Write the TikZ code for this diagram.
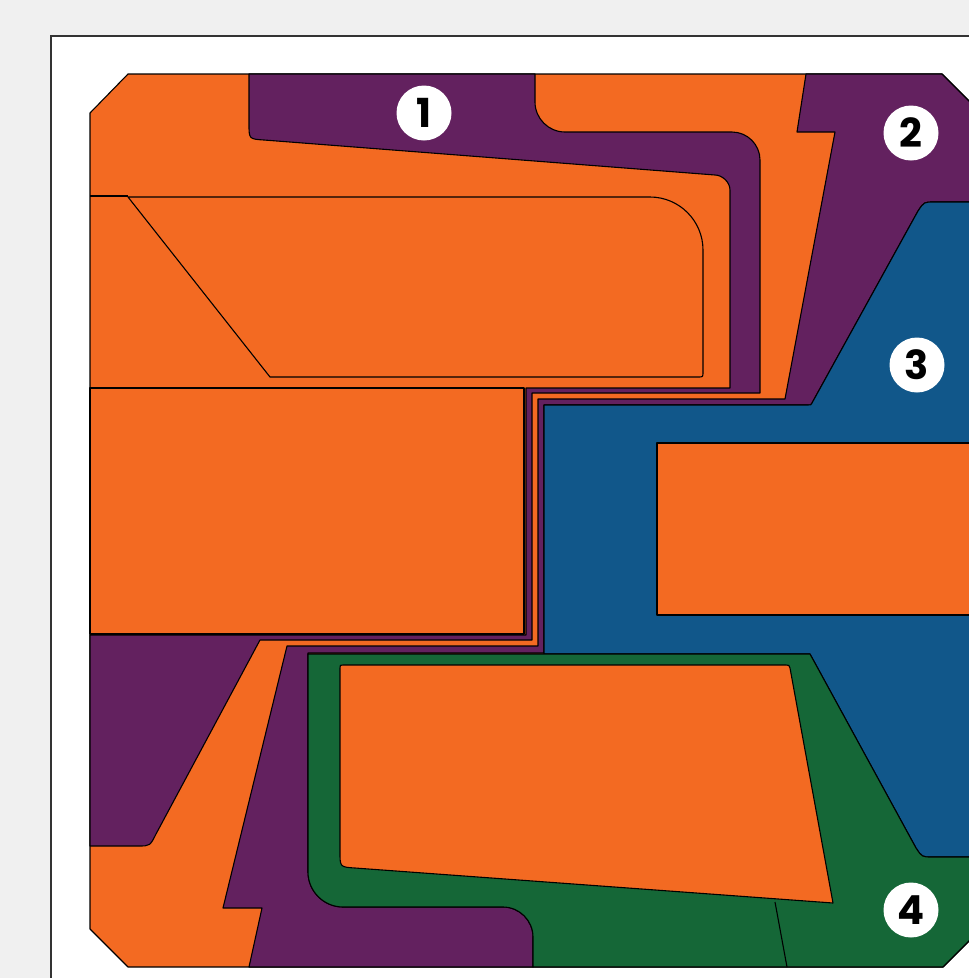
\documentclass[tikz,border=0pt]{standalone}
\usepackage{fontspec}
\newfontfamily\numfont{Poppins}
\usepackage{xcolor}
\usepackage{tikz}

\definecolor{plateorange}{HTML}{F36A22}
\definecolor{platepurple}{HTML}{63215F}
\definecolor{plateblue}{HTML}{11578A}
\definecolor{plategreen}{HTML}{156737}
\definecolor{pagegray}{HTML}{F0F0F0}

\begin{document}
\begin{tikzpicture}[
  x=1pt, y=-1pt,
  zone/.style={draw=black, line width=1.1pt, line join=round},
  orangezone/.style={zone, fill=plateorange},
  purplezone/.style={zone, fill=platepurple},
  bluezone/.style={zone, fill=plateblue},
  greenzone/.style={zone, fill=plategreen},
  cut/.style={draw=black, line width=1.1pt},
  tag/.style={circle, fill=white, minimum size=55pt, inner sep=0pt, font=\numfont\bfseries\fontsize{40}{40}\selectfont}
]
\useasboundingbox (0,0) rectangle (969,978);
\clip (0,0) rectangle (969,978);

% page and frame
\fill[pagegray] (0,0) rectangle (969,978);
\filldraw[fill=white, draw=black!80, line width=1.5pt] (51,36) rectangle (1010,1010);

% plate
\path[orangezone] (128,74) -- (942,74) -- (985,117) -- (985,925) -- (943,967)
  -- (128,967) -- (90,929) -- (90,113) -- cycle;

% zone 1
\path[purplezone] (249,74) -- (535,74) -- (535,102) .. controls (535,118.5) and (548.5,132) .. (565,132)
  -- (732,132) .. controls (747.4,132) and (760,144.6) .. (760,160) -- (760,393) -- (532,393)
  -- (532,640) -- (260,640) -- (156,834) .. controls (150,846) .. (138,846)
  -- (90,846) -- (90,635) -- (526,635) -- (526,388) -- (730,388) -- (730,190)
  .. controls (730,181.7) and (721.7,175) .. (715,175) -- (264,140)
  .. controls (249,139) .. (249,124) -- cycle;

% zone 2
\path[purplezone] (806,74) -- (942,74) -- (985,117) -- (985,202) -- (934,202)
  .. controls (924,202) .. (918,211) -- (812,403) .. controls (811,405) .. (808,405)
  -- (544,405) -- (544,653) -- (308,653) -- (308,872)
  .. controls (308,891.2) and (323.8,907) .. (343,907)
  -- (503,907) .. controls (519.5,907) and (533,920.5) .. (533,937) -- (533,967) -- (249,967) -- (262,908)
  -- (223,908) -- (287,646) -- (538,646) -- (538,399) -- (785,399) -- (835,132)
  -- (797,132) -- cycle;

% zone 3
\path[bluezone] (544,405) -- (808,405) .. controls (811,405) .. (812,403) -- (918,211)
  .. controls (924,202) .. (934,202) -- (985,202) -- (985,857) -- (932,857)
  .. controls (922,857) .. (916,848) -- (810,654) -- (544,654) -- cycle;

% zone 4
\path[greenzone] (308,654) -- (810,654) -- (916,848) .. controls (922,857) .. (932,857)
  -- (985,857) -- (985,925) -- (943,967) -- (533,967) -- (533,937)
  .. controls (533,920.5) and (519.5,907) .. (503,907) -- (343,907)
  .. controls (323.8,907) and (308,891.2) .. (308,872) -- cycle;
\draw[cut] (775,902) -- (787,967);

% inner pieces
\path[orangezone] (128,197) -- (650,197) .. controls (679.2,197) and (703,220.8) .. (703,250) -- (703,372)
  .. controls (703,377) .. (698,377) -- (270,377) -- cycle;
\draw[cut] (90,196) -- (128,196);
\path[orangezone] (90,388) rectangle (524,634);
\path[orangezone] (657,443) rectangle (985,615);
\path[orangezone] (340,668) .. controls (340,665) .. (343,665) -- (786,665)
  .. controls (789,665) .. (790,668) -- (833,903) -- (355,868)
  .. controls (340,867) .. (340,852) -- cycle;

% zone numbers
\node[tag] (tag1) at (424,113) {1};
\node[tag] (tag2) at (911,133) {2};
\node[tag] (tag3) at (917,365) {3};
\node[tag] (tag4) at (911,910) {4};

\end{tikzpicture}
\end{document}
